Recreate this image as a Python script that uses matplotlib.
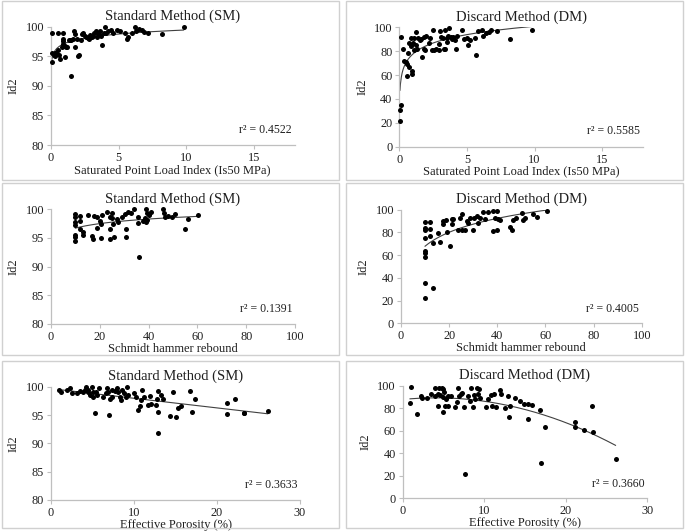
import numpy as np
import matplotlib
matplotlib.use("Agg")
import matplotlib.pyplot as plt
from matplotlib.patches import Rectangle

plt.rcParams['font.family'] = ['Liberation Serif', 'DejaVu Serif']

# ---- data ----
# Id2 (SM) vs saturated point load index
is50_sm_x = [0.05, 0.1, 0.2, 0.3, 0.3, 0.4, 0.5, 0.6, 0.7, 0.8, 0.9, 1.0, 1.0, 1.1, 1.2, 0.9, 0.9,
             1.3, 1.5, 1.5, 1.8, 1.9, 1.7, 1.8, 2.0, 2.1, 2.2, 2.4, 2.5, 2.6, 2.8, 2.9, 3.0, 3.2,
             3.3, 3.4, 3.5, 3.6, 3.7, 3.8, 3.9, 4.0, 4.2, 4.4, 4.6, 4.9, 5.1, 5.5, 5.6, 5.7, 6.0,
             6.2, 6.3, 6.5, 6.7, 6.9, 7.2, 8.2, 9.8, 0.1, 0.5, 0.9, 2.3, 1.6, 2.7, 3.1, 3.6, 4.1, 1.4]
is50_sm_y = [94.0, 95.5, 95.3, 95.0, 95.5, 95.6, 96.0, 95.2, 94.6, 96.6, 97.0, 94.8, 96.8, 96.6, 96.5, 97.5, 97.9,
             97.8, 97.8, 91.6, 96.5, 98.0, 99.2, 98.8, 95.0, 95.3, 97.8, 99.0, 98.5, 98.2, 98.0, 98.6, 98.3, 98.9,
             99.2, 98.3, 98.8, 99.3, 98.5, 96.9, 99.0, 100.0, 99.2, 99.4, 98.9, 99.5, 99.3, 98.9, 98.0, 98.3, 99.0,
             100.0, 99.2, 99.6, 99.5, 99.1, 99.0, 98.8, 100.0, 99.0, 98.9, 98.9, 98.7, 98.0, 98.1, 98.4, 98.6, 98.9, 97.8]

# Id2 (DM) vs saturated point load index
is50_dm_x = [0.05, 0.07, 0.1, 0.15, 0.25, 0.35, 0.5, 0.55, 0.6, 0.65, 0.7, 0.7, 0.9, 0.9, 0.95, 0.95, 1.0,
             1.05, 1.1, 1.2, 1.25, 1.3, 1.4, 1.5, 1.6, 1.7, 1.8, 1.8, 1.9, 2.0, 2.2, 2.3, 2.4, 2.5, 2.6,
             2.7, 2.9, 2.9, 3.0, 3.1, 3.2, 3.3, 3.4, 3.4, 3.5, 3.5, 3.6, 3.7, 3.8, 3.9, 4.0, 4.1, 4.2,
             4.3, 4.6, 4.8, 5.0, 5.1, 5.2, 5.6, 5.7, 5.8, 6.1, 6.2, 6.4, 6.6, 6.8, 7.2, 8.2, 9.8]
is50_dm_y = [21.5, 31, 35, 92, 82, 72, 71, 59, 69, 78.5, 87, 67, 91, 84, 61, 63, 87,
             91, 81, 85, 96, 82, 91, 89, 90, 75, 92, 82, 81, 93, 87, 91, 81, 98, 81,
             82, 81, 86, 97, 92, 91, 82, 98, 82, 88, 91, 93, 99, 92, 90, 92, 89, 82,
             93, 98, 90, 91, 85, 89, 91, 76.5, 97, 98, 93, 95, 96, 98, 97, 90.5, 98]

# Id2 (SM) vs Schmidt hammer rebound
sch_sm_x = [10, 10, 10, 10, 10, 10, 10, 11.9, 12, 12, 13, 13, 15.3, 16.7, 17.3, 17.8, 19, 19, 20,
            20.3, 20.3, 21, 22.8, 24, 24, 24, 25, 25, 25.5, 26, 27, 27.6, 29, 30.3, 30.7, 30.7, 31.7,
            32.6, 34.1, 35.8, 35.8, 36, 37.6, 38.5, 39, 39.2, 39.5, 40.3, 41, 45.8, 46.3, 46.7, 48,
            49.5, 50.8, 55, 56.3, 60.4, 39, 40]
sch_sm_y = [99.2, 98.7, 97.8, 97.2, 95.5, 95.2, 94.5, 98.9, 98.0, 96.5, 96.0, 95.5, 99.0, 95.3, 94.8, 98.9, 98.6, 96.8, 98.0,
            97.4, 95.0, 99.0, 99.6, 98.6, 96.5, 94.9, 99.3, 98.4, 97.5, 95.2, 98.3, 97.8, 98.7, 99.2, 96.6, 95.2, 99.5,
            99.4, 100.0, 98.6, 97.6, 91.6, 98.0, 98.4, 100.0, 99.4, 98.2, 99.0, 99.5, 100.0, 99.3, 98.6, 98.9,
            98.6, 99.1, 96.6, 98.3, 99.0, 97.8, 99.1]

# Id2 (DM) vs Schmidt hammer rebound
sch_dm_x = [10, 10, 10, 10, 10, 10, 10, 10, 10, 12, 12, 12, 13.2, 13.2, 15.2, 16.2, 17.3, 17.5, 18.6,
            19.3, 20.4, 21, 21, 21.8, 23.8, 24.5, 25.2, 25.2, 26.6, 27.3, 28, 28.6, 30, 30.4, 31.4,
            32.1, 32.8, 34.2, 34.9, 36.3, 38.1, 38.4, 39.1, 39.8, 40, 40.4, 41.1, 45.3, 46, 46.7, 47.8,
            50.1, 50.5, 51.5, 55, 56.4, 60.5]
sch_dm_y = [89.5, 83.6, 82, 74.8, 63.6, 61.6, 58.7, 35.2, 22, 89.5, 82.7, 76.8, 70.4, 31.4, 79.2, 71.8, 90, 87, 91,
            80.6, 68, 91.5, 87, 91.5, 82, 93, 95.9, 82, 82, 90.3, 88.6, 92.4, 82, 92.4, 94.7,
            88, 93, 98.2, 91.5, 97.7, 81.2, 98.8, 92.4, 98.8, 82, 91.8, 91, 85, 82, 91, 92.4,
            97.4, 91, 92.4, 96.2, 93.8, 98.8]

# Id2 (SM) vs effective porosity
por_sm_x = [1.0, 1.2, 1.9, 2.3, 2.5, 3.1, 3.5, 3.9, 4.1, 4.2, 4.4, 4.5, 4.7, 4.9, 5.0, 5.1, 5.3, 5.4,
            5.6, 5.8, 6.3, 6.6, 6.8, 6.9, 7.0, 7.1, 7.3, 7.4, 7.7, 7.9, 8.1, 8.3, 8.4, 8.6, 8.8, 9.0,
            9.2, 9.3, 10.0, 10.3, 10.5, 10.7, 10.9, 11.0, 11.2, 11.7, 11.9, 12.1, 12.6, 12.8, 12.9,
            12.9, 12.9, 13.2, 13.5, 14.3, 14.7, 15.1, 15.3, 15.7, 16.7, 17.0, 17.4, 21.2, 21.2, 22.2,
            23.2, 23.3, 26.1]
por_sm_y = [99.5, 99.1, 99.5, 99.7, 98.8, 98.8, 99.2, 99.1, 99.4, 100.0, 99.0, 99.4, 98.6, 100.0, 99.1, 98.1, 95.4, 99.1,
            98.6, 99.7, 98.1, 98.8, 99.7, 99.1, 95.0, 97.8, 99.5, 98.2, 99.2, 99.7, 99.0, 98.2, 97.6, 99.4, 98.8, 98.1,
            100.0, 98.6, 98.8, 98.2, 95.9, 96.6, 97.6, 99.4, 98.2, 96.8, 98.4, 96.9, 96.8, 97.8, 99.2,
            95.5, 91.8, 98.6, 97.9, 94.9, 99.1, 94.7, 96.2, 96.6, 99.2, 95.6, 97.9, 97.2, 95.1, 97.8,
            95.4, 95.3, 95.7]

# Id2 (DM) vs effective porosity
por_dm_x = [0.9, 1.0, 1.8, 2.2, 2.4, 3.0, 3.5, 4.0, 4.0, 4.3, 4.5, 4.3, 4.6, 4.8, 4.9, 5.0, 5.1, 5.0,
            5.2, 5.3, 5.5, 5.6, 5.9, 6.4, 6.6, 6.8, 6.9, 7.1, 7.3, 7.5, 7.6, 8.0, 8.2, 8.4, 8.6, 8.7,
            8.9, 9.1, 9.2, 9.4, 9.5, 10.2, 10.5, 10.8, 11.0, 11.2, 11.5, 11.9, 12.1, 12.5, 12.9, 13.0,
            13.2, 13.8, 14.4, 14.9, 15.4, 15.4, 15.9, 16.8, 17.0, 17.4, 21.1, 21.1, 22.2, 23.2, 23.3, 26.1]
por_dm_y = [85.2, 98.8, 75.4, 91, 89, 89.5, 92.5, 98.5, 91, 93, 98, 82, 92, 98, 90, 97, 95, 77,
            82, 88, 91, 82.5, 91, 81.5, 86, 98.5, 91, 93, 94, 81.5, 21.5, 91, 87, 98, 81, 92,
            88, 98, 93, 97, 89, 81, 88.5, 92, 82, 93, 81, 96, 93, 80, 91, 72,
            82, 89, 87, 84, 84, 70.5, 83, 79, 31, 63.5, 68, 63.5, 61, 82.5, 59, 35]

titles = ["Standard Method (SM)", "Discard Method (DM)"]
xlabels = ["Saturated Point Load Index (Is50 MPa)", "Schmidt hammer rebound", "Effective Porosity (%)"]
r2_text = ["r\u00b2 = 0.4522", "r\u00b2 = 0.5585", "r\u00b2 = 0.1391",
           "r\u00b2 = 0.4005", "r\u00b2 = 0.3633", "r\u00b2 = 0.3660"]

W, H = 685, 531
fig = plt.figure(figsize=(W / 100, H / 100), dpi=100)

def px(l, t, r, b):
    return [l / W, 1 - b / H, (r - l) / W, (b - t) / H]

# panel frames (pixels: left, top, right, bottom)
frames = [(2, 1, 339, 180), (346, 1, 683, 180),
          (2, 183, 339, 355), (346, 183, 683, 355),
          (2, 361, 339, 528), (346, 361, 683, 528)]
for (l, t, r, b) in frames:
    fig.patches.append(Rectangle((l / W, 1 - b / H), (r - l) / W, (b - t) / H,
                                 transform=fig.transFigure, fill=False,
                                 edgecolor="#d0d0d0", lw=1.0))

axes_px = [(51, 26.7, 294.5, 145), (399.3, 27.3, 642.8, 146.7),
           (51, 209.3, 295, 324), (401, 209.7, 641.7, 323.3),
           (51, 386.7, 300, 500), (402.7, 386, 647.3, 498.3)]

panels = [
    (is50_sm_x, is50_sm_y, "log", (0, 18), (80, 100), [0, 5, 10, 15], [80, 85, 90, 95, 100]),
    (is50_dm_x, is50_dm_y, "log", (0, 18), (0, 100), [0, 5, 10, 15], [0, 20, 40, 60, 80, 100]),
    (sch_sm_x, sch_sm_y, "log", (0, 100), (80, 100), [0, 20, 40, 60, 80, 100], [80, 85, 90, 95, 100]),
    (sch_dm_x, sch_dm_y, "log", (0, 100), (0, 100), [0, 20, 40, 60, 80, 100], [0, 20, 40, 60, 80, 100]),
    (por_sm_x, por_sm_y, "lin", (0, 30), (80, 100), [0, 10, 20, 30], [80, 85, 90, 95, 100]),
    (por_dm_x, por_dm_y, "poly2", (0, 30), (0, 100), [0, 10, 20, 30], [0, 20, 40, 60, 80, 100]),
]

txt = "#1f1f1f"
for i, (x, y, kind, xl, yl, xt, yt) in enumerate(panels):
    ax = fig.add_axes(px(*axes_px[i]))
    x = np.array(x, dtype=float)
    y = np.array(y, dtype=float)
    ax.plot(x, y, "o", color="black", ms=3.6, mec="none", clip_on=False, zorder=3)

    xs = np.linspace(x.min(), x.max(), 300)
    if kind == "log":
        p = np.polyfit(np.log(x), y, 1)
        ys = p[0] * np.log(xs) + p[1]
    elif kind == "lin":
        p = np.polyfit(x, y, 1)
        ys = np.polyval(p, xs)
    else:
        p = np.polyfit(x, y, 2)
        ys = np.polyval(p, xs)
    ax.plot(xs, ys, color="#404040", lw=0.8, zorder=2)

    ax.set_xlim(*xl)
    ax.set_ylim(*yl)
    ax.set_xticks(xt)
    ax.set_yticks(yt)
    for s in ["top", "right"]:
        ax.spines[s].set_visible(False)
    for s in ["left", "bottom"]:
        ax.spines[s].set_color("#bfbfbf")
        ax.spines[s].set_linewidth(0.9)
    ax.tick_params(direction="out", length=3, width=0.8, color="#bfbfbf",
                   labelsize=8.8, labelcolor=txt, pad=2)
    ax.set_title(titles[i % 2], fontsize=10.5, color=txt, pad=5)
    ax.set_xlabel(xlabels[i // 2], fontsize=9, color=txt, labelpad=0)
    ax.set_ylabel("Id2", fontsize=9, color=txt, labelpad=4)
    ax.text(0.99, 0.13, r2_text[i], transform=ax.transAxes, ha="right", va="center",
            fontsize=8.5, color=txt)

fig.savefig("out.png", dpi=100)
